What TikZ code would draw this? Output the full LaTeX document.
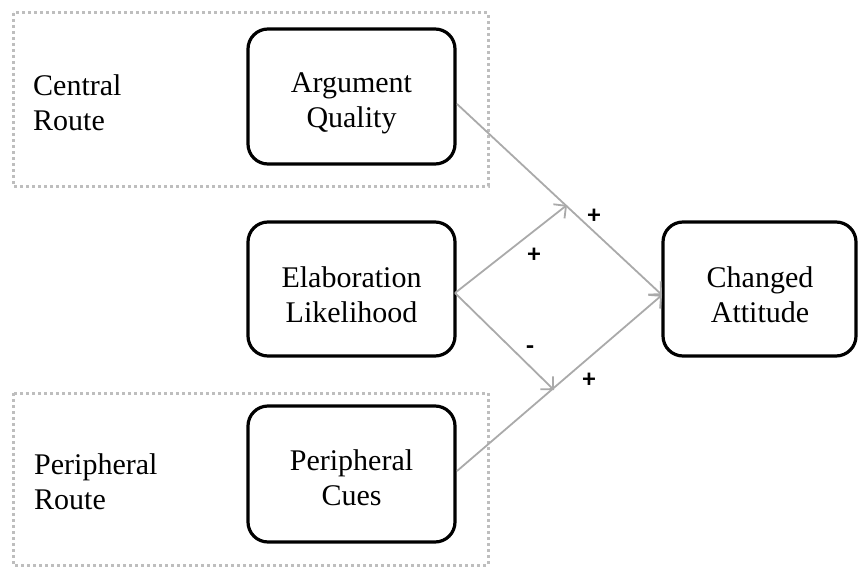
\documentclass[tikz,border=0pt]{standalone}
\usepackage{fontspec}
\setmainfont{Liberation Serif}
\newfontfamily\plusfont{Carlito}
\usetikzlibrary{arrows.meta}
\definecolor{dotgray}{RGB}{190,190,190}
\definecolor{arrgray}{RGB}{170,170,170}
\begin{document}
\begin{tikzpicture}[x=1pt,y=-1pt,
  box/.style={draw=black,line width=3.2pt,rounded corners=20pt,fill=white},
  route/.style={draw=dotgray,line width=3pt,dash pattern=on 3pt off 3pt},
  conn/.style={draw=arrgray,line width=1.8pt,-{Straight Barb[length=9pt,width=18pt,line width=1.8pt]}},
  lbl/.style={font=\fontsize{30}{35}\selectfont,align=center,inner sep=0pt},
  sgn/.style={font=\plusfont\bfseries\fontsize{26}{26}\selectfont,inner sep=0pt}]
\useasboundingbox (0,0) rectangle (858,567);
\draw[route] (13,13) rectangle (488,186);
\draw[route] (13,393) rectangle (488,565);
\node[lbl,align=left,anchor=west] (cr) at (33,103) {Central\\Route};
\node[lbl,align=left,anchor=west] (pr) at (34,482) {Peripheral\\Route};
\draw[box] (248,29) rectangle (455,164);
\node[lbl] (aqt) at (351.5,103) {Argument\\Quality};
\coordinate (aq) at (457,104);
\draw[box] (248,222) rectangle (455,356);
\node[lbl] (elt) at (351.5,295) {Elaboration\\Likelihood};
\coordinate (el) at (455,293);
\draw[box] (248,406) rectangle (455,542);
\node[lbl] (pct) at (351.5,478) {Peripheral\\Cues};
\coordinate (pc) at (457,471);
\draw[box] (663,222) rectangle (856,356);
\node[lbl] (cat) at (760,295) {Changed\\Attitude};
\coordinate (ca) at (662,295);
\coordinate (m1) at (567,205);
\coordinate (m2) at (554,390);
\draw[conn] (aq) -- (ca);
\draw[conn] (pc) -- (ca);
\draw[conn] (el) -- (m1);
\draw[conn] (el) -- (m2);
\node[sgn] (p1) at (594,216) {+};
\node[sgn] (p2) at (534,255) {+};
\node[sgn] (p3) at (530,350) {-};
\node[sgn] (p4) at (589,380) {+};
\end{tikzpicture}
\end{document}
